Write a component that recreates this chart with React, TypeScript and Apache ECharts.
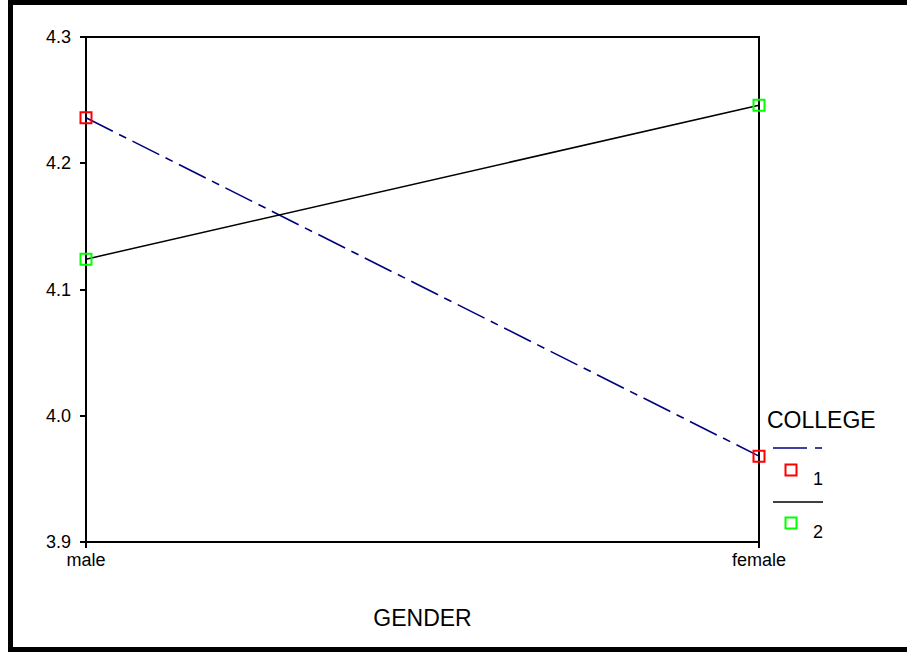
import React, { useEffect, useRef } from "react";
import * as echarts from "echarts";

const categories = ["male", "female"];
const college1 = [4.236, 3.968];
const college2 = [4.124, 4.246];
const legendLabels = ["1", "2"];
const yMin = 3.9;
const yMax = 4.3;
const yInterval = 0.1;

export default function App() {
  const ref = useRef<HTMLDivElement>(null);
  useEffect(() => {
    if (!ref.current) return;
    const chart = echarts.init(ref.current, null, { renderer: "svg" });
    const font = "Liberation Sans, Arial, sans-serif";
    chart.setOption({
      animation: false,
      backgroundColor: "#fff",
      grid: {
        left: 86,
        top: 37,
        right: 148,
        bottom: 110,
        show: true,
        borderColor: "#000",
        borderWidth: 2,
        containLabel: false,
      },
      xAxis: {
        type: "category",
        data: categories,
        boundaryGap: false,
        name: "GENDER",
        nameLocation: "middle",
        nameGap: 64,
        nameTextStyle: { color: "#000", fontSize: 23, fontFamily: font },
        axisLine: { lineStyle: { color: "#000", width: 2 } },
        axisTick: { length: 6, lineStyle: { color: "#000", width: 2 } },
        axisLabel: { color: "#000", fontSize: 18, fontFamily: font, margin: 9 },
        splitLine: { show: false },
      },
      yAxis: {
        type: "value",
        min: yMin,
        max: yMax,
        interval: yInterval,
        axisLine: { show: true, lineStyle: { color: "#000", width: 2 } },
        axisTick: { show: true, length: 6, lineStyle: { color: "#000", width: 2 } },
        axisLabel: {
          color: "#000",
          fontSize: 18,
          fontFamily: font,
          margin: 15,
          formatter: (v: number) => v.toFixed(1),
        },
        splitLine: { show: false },
      },
      series: [
        {
          name: "1",
          type: "line",
          data: college1,
          symbol: "rect",
          symbolSize: 11,
          itemStyle: { color: "rgba(255,255,255,0)", borderColor: "#ff0000", borderWidth: 2 },
          lineStyle: { color: "#000080", width: 1.6, type: [30, 7, 8, 7] },
          z: 3,
        },
        {
          name: "2",
          type: "line",
          data: college2,
          symbol: "rect",
          symbolSize: 11,
          itemStyle: { color: "rgba(255,255,255,0)", borderColor: "#00ff00", borderWidth: 2 },
          lineStyle: { color: "#000", width: 1.5, type: "solid" },
          z: 3,
        },
      ],
      graphic: [
        { type: "rect", shape: { x: 8, y: 0, width: 899, height: 5 }, style: { fill: "#000" } },
        { type: "rect", shape: { x: 8, y: 0, width: 5, height: 652 }, style: { fill: "#000" } },
        { type: "rect", shape: { x: 8, y: 647, width: 899, height: 5 }, style: { fill: "#000" } },
        {
          type: "text",
          x: 767,
          y: 420,
          style: { text: "COLLEGE", fill: "#000", font: `23px ${font}`, verticalAlign: "middle", align: "left" },
        },
        {
          type: "line",
          shape: { x1: 773, y1: 448, x2: 823, y2: 448 },
          style: { stroke: "#000080", lineWidth: 1.6, lineDash: [34, 8, 7, 8] },
        },
        {
          type: "rect",
          shape: { x: 785.5, y: 464.5, width: 11, height: 11 },
          style: { fill: "none", stroke: "#ff0000", lineWidth: 2 },
        },
        {
          type: "text",
          x: 818,
          y: 479,
          style: { text: legendLabels[0], fill: "#000", font: `18px ${font}`, verticalAlign: "middle", align: "center" },
        },
        {
          type: "line",
          shape: { x1: 773, y1: 502, x2: 823, y2: 502 },
          style: { stroke: "#000", lineWidth: 1.5 },
        },
        {
          type: "rect",
          shape: { x: 785.5, y: 517.5, width: 11, height: 11 },
          style: { fill: "none", stroke: "#00ff00", lineWidth: 2 },
        },
        {
          type: "text",
          x: 818,
          y: 532,
          style: { text: legendLabels[1], fill: "#000", font: `18px ${font}`, verticalAlign: "middle", align: "center" },
        },
      ],
    });
    return () => chart.dispose();
  }, []);
  return (
    <div
      ref={ref}
      style={{ position: "absolute", left: 0, top: 0, width: 907, height: 652 }}
    />
  );
}
